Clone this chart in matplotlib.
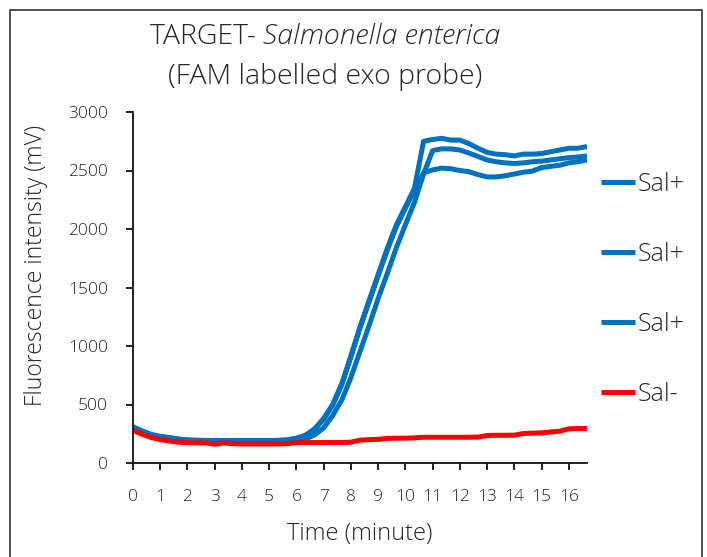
import matplotlib
matplotlib.use("Agg")
import matplotlib.pyplot as plt
from matplotlib.patches import Rectangle
import numpy as np

plt.rcParams['font.family'] = ['Open Sans', 'DejaVu Sans']
plt.rcParams['font.weight'] = 'light'
plt.rcParams['axes.labelweight'] = 'light'
plt.rcParams['axes.titleweight'] = 'light'

time_min = [0, 0.33, 0.67, 1, 1.33, 1.67, 2, 2.33, 2.67, 3, 3.33, 3.67, 4, 4.33, 4.67,
            5, 5.33, 5.67, 6, 6.33, 6.67, 7, 7.33, 7.67, 8, 8.33, 8.67, 9, 9.33, 9.67,
            10, 10.33, 10.67, 11, 11.33, 11.67, 12, 12.33, 12.67, 13, 13.33, 13.67, 14,
            14.33, 14.67, 15, 15.33, 15.67, 16, 16.33, 16.67]

sal_pos_1 = [310, 275, 245, 228, 218, 205, 198, 195, 193, 192, 192, 192, 192, 192, 192,
             192, 193, 198, 212, 237, 293, 380, 500, 680, 915, 1160, 1390, 1610, 1830, 2035,
             2190, 2345, 2750, 2765, 2775, 2760, 2760, 2730, 2690, 2655, 2640, 2635, 2625,
             2640, 2640, 2645, 2660, 2675, 2690, 2690, 2705]
sal_pos_2 = [300, 265, 238, 222, 212, 200, 193, 190, 190, 190, 190, 190, 190, 190, 190,
             190, 190, 192, 194, 205, 240, 300, 405, 540, 730, 950, 1175, 1405, 1615, 1840,
             2035, 2225, 2470, 2670, 2685, 2685, 2675, 2650, 2620, 2590, 2575, 2565, 2560,
             2565, 2575, 2580, 2590, 2600, 2610, 2615, 2625]
sal_pos_3 = [305, 270, 240, 225, 215, 203, 196, 192, 192, 192, 192, 192, 192, 192, 192,
             192, 193, 197, 210, 233, 288, 373, 492, 672, 905, 1150, 1378, 1598, 1815, 2020,
             2175, 2335, 2480, 2505, 2520, 2515, 2500, 2490, 2465, 2445, 2445, 2455, 2470,
             2485, 2495, 2525, 2535, 2545, 2565, 2575, 2590]
sal_neg = [280, 245, 218, 200, 188, 178, 174, 173, 172, 160, 172, 165, 163, 163, 163,
           163, 163, 165, 175, 175, 175, 175, 175, 175, 178, 195, 200, 202, 210, 212,
           212, 215, 220, 220, 220, 220, 220, 220, 222, 235, 237, 237, 238,
           252, 255, 258, 265, 272, 292, 295, 295]

x_ticks = list(range(0, 17))
y_ticks = [0, 500, 1000, 1500, 2000, 2500, 3000]
labels = ["Sal+", "Sal+", "Sal+", "Sal-"]

W, H = 707, 557
fig = plt.figure(figsize=(W / 100, H / 100), dpi=100)
ax = fig.add_axes([133 / W, (H - 463) / H, (587 - 133) / W, (463 - 112) / H])

blue = '#0070C0'
red = '#FF0000'
txt = '#262626'
lw = 3.6
ax.plot(time_min, sal_pos_1, color=blue, lw=lw, label=labels[0], solid_capstyle='butt')
ax.plot(time_min, sal_pos_2, color=blue, lw=lw, label=labels[1], solid_capstyle='butt')
ax.plot(time_min, sal_pos_3, color=blue, lw=lw, label=labels[2], solid_capstyle='butt')
ax.plot(time_min, sal_neg, color=red, lw=lw, label=labels[3], solid_capstyle='butt')

ax.set_xlim(0, 16.67)
ax.set_ylim(0, 3000)
ax.set_xticks(x_ticks)
ax.set_yticks(y_ticks)
ax.set_xticklabels([str(v) for v in x_ticks])
ax.set_yticklabels([str(v) for v in y_ticks])
for s in ['top', 'right']:
    ax.spines[s].set_visible(False)
for s in ['left', 'bottom']:
    ax.spines[s].set_linewidth(1.3)
    ax.spines[s].set_color('#111111')
ax.tick_params(axis='x', direction='out', length=5, width=1.3, pad=14,
               labelsize=12.5, colors='#111111', labelcolor=txt)
ax.tick_params(axis='y', direction='out', length=5, width=1.3, pad=13,
               labelsize=12.5, colors='#111111', labelcolor=txt)

ax.set_xlabel("Time (minute)", fontsize=17, color=txt, labelpad=12)
ax.set_ylabel("Fluorescence intensity (mV)", fontsize=16.5, color=txt)
ax.yaxis.set_label_coords((48 - 133) / (587 - 133), (463 - 265) / (463 - 112))

leg = ax.legend(loc='upper left', bbox_to_anchor=(601 / W, (H - 172) / H),
                bbox_transform=fig.transFigure, frameon=False, fontsize=18,
                handlelength=1.36, handletextpad=0.12, labelspacing=1.8,
                borderaxespad=0, borderpad=0)
for t in leg.get_texts():
    t.set_color(txt)

# title in two pieces so the species name is italic
fig.canvas.draw()
r = fig.canvas.get_renderer()
fs_title = 20.5
t1 = fig.text(0, 0, "TARGET- ", fontsize=fs_title, color=txt, va='center')
t2 = fig.text(0, 0, "Salmonella enterica", fontsize=fs_title, color=txt, va='center',
              style='italic')
w1 = t1.get_window_extent(r).width
w2 = t2.get_window_extent(r).width
cx = 325
x0 = cx - (w1 + w2) / 2
t1.set_position((x0 / W, (H - 37) / H))
t2.set_position(((x0 + w1) / W, (H - 37) / H))
fig.text(cx / W, (H - 77) / H, "(FAM labelled exo probe)", fontsize=fs_title, color=txt,
         ha='center', va='center')

fig.patches.append(Rectangle((10 / W, -0.05), (702 - 10) / W, (H - 10) / H + 0.05,
                             transform=fig.transFigure, fill=False, lw=1.2,
                             edgecolor='#333333', clip_on=False))

fig.savefig("out.png", dpi=100)
